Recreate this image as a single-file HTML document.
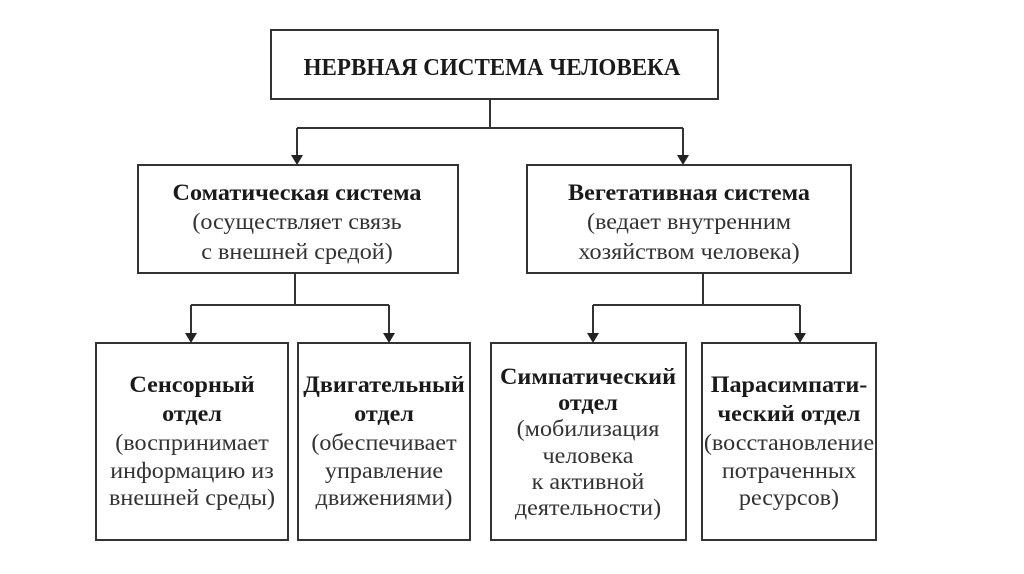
<!DOCTYPE html>
<html><head><meta charset="utf-8"><style>
html,body{margin:0;padding:0;background:#fff;width:1024px;height:574px;overflow:hidden}
svg{display:block}
text{font-family:"Liberation Serif",serif;font-size:23px;text-anchor:middle;fill:#333}
.b{font-weight:bold;fill:#1a1a1a}
</style></head><body>
<svg width="1024" height="574" viewBox="0 0 1024 574">
<g stroke="#333" stroke-width="2" fill="none">
<rect x="271" y="30" width="447" height="69"/>
<rect x="138" y="165" width="320" height="108"/>
<rect x="527" y="165" width="324" height="108"/>
<rect x="96" y="343" width="192" height="197"/>
<rect x="298" y="343" width="172" height="197"/>
<rect x="491" y="343" width="195" height="197"/>
<rect x="702" y="343" width="174" height="197"/>
<path d="M490 99V128M297 128H683M297 128V158M683 128V158"/>
<path d="M295 273V305M191 305H389M191 305V336M389 305V336"/>
<path d="M703 273V305M593 305H800M593 305V336M800 305V336"/>
</g>
<g fill="#222">
<path d="M291 155h12l-6 10z"/><path d="M677 155h12l-6 10z"/>
<path d="M185 333h12l-6 10z"/><path d="M383 333h12l-6 10z"/>
<path d="M587 333h12l-6 10z"/><path d="M794 333h12l-6 10z"/>
</g>
<g transform="translate(492,75) scale(0.96,1)"><text class="b" style="font-size:24px">НЕРВНАЯ СИСТЕМА ЧЕЛОВЕКА</text></g>

<g transform="translate(297,200) scale(1.05,1)"><text class="b">Соматическая система</text></g>
<g transform="translate(297,229) scale(1.05,1)"><text>(осуществляет связь</text></g>
<g transform="translate(297,259) scale(1.05,1)"><text>с внешней средой)</text></g>

<g transform="translate(689,200) scale(1.05,1)"><text class="b">Вегетативная система</text></g>
<g transform="translate(689,229) scale(1.05,1)"><text>(ведает внутренним</text></g>
<g transform="translate(689,259) scale(1.05,1)"><text>хозяйством человека)</text></g>

<g transform="translate(192,392) scale(1.05,1)"><text class="b">Сенсорный</text></g>
<g transform="translate(192,421) scale(1.05,1)"><text class="b">отдел</text></g>
<g transform="translate(192,450) scale(1.05,1)"><text>(воспринимает</text></g>
<g transform="translate(192,478) scale(1.05,1)"><text>информацию из</text></g>
<g transform="translate(192,505) scale(1.05,1)"><text>внешней среды)</text></g>

<g transform="translate(384,392) scale(1.05,1)"><text class="b">Двигательный</text></g>
<g transform="translate(384,421) scale(1.05,1)"><text class="b">отдел</text></g>
<g transform="translate(384,450) scale(1.05,1)"><text>(обеспечивает</text></g>
<g transform="translate(384,478) scale(1.05,1)"><text>управление</text></g>
<g transform="translate(384,505) scale(1.05,1)"><text>движениями)</text></g>

<g transform="translate(588,384) scale(1.05,1)"><text class="b">Симпатический</text></g>
<g transform="translate(588,410) scale(1.05,1)"><text class="b">отдел</text></g>
<g transform="translate(588,436) scale(1.05,1)"><text>(мобилизация</text></g>
<g transform="translate(588,463) scale(1.05,1)"><text>человека</text></g>
<g transform="translate(588,489) scale(1.05,1)"><text>к активной</text></g>
<g transform="translate(588,515) scale(1.05,1)"><text>деятельности)</text></g>

<g transform="translate(789,392) scale(1.05,1)"><text class="b">Парасимпати-</text></g>
<g transform="translate(789,421) scale(1.05,1)"><text class="b">ческий отдел</text></g>
<g transform="translate(789,450) scale(1.05,1)"><text>(восстановление</text></g>
<g transform="translate(789,478) scale(1.05,1)"><text>потраченных</text></g>
<g transform="translate(789,505) scale(1.05,1)"><text>ресурсов)</text></g>
</svg>
</body></html>
